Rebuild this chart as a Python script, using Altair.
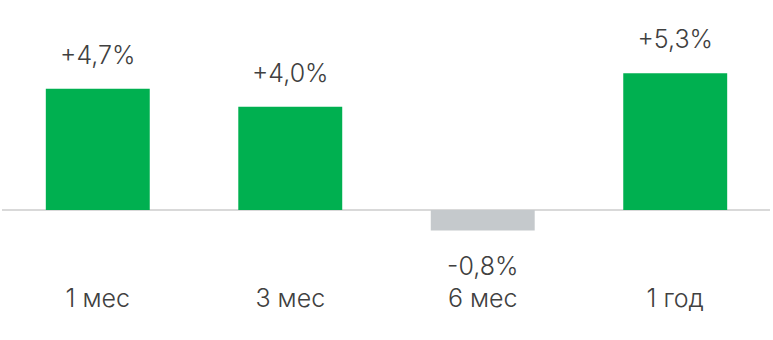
import altair as alt
import pandas as pd

# Returns by period, in percent
periods = ["1 мес", "3 мес", "6 мес", "1 год"]
returns = [4.7, 4.0, -0.8, 5.3]

GREEN = "#00B050"
GREY = "#C5C9CC"
TEXT = "#404040"
FONT = "Inter"
SIZE = 25
WEIGHT = 300

df = pd.DataFrame({"period": periods, "value": returns})
df["zero"] = 0.0
df["label"] = [f"{v:+.1f}%".replace(".", ",") for v in returns]

x = alt.X("period:N", sort=periods, axis=None,
          scale=alt.Scale(paddingInner=0.46, paddingOuter=0.238))
y_scale = alt.Scale(domain=[-5.04, 8.14], nice=False, zero=False)

base = alt.Chart(df)

bars = base.mark_bar().encode(
    x=x,
    y=alt.Y("value:Q", scale=y_scale, axis=None),
    y2="zero:Q",
    color=alt.condition("datum.value < 0", alt.value(GREY), alt.value(GREEN)),
)

zero_line = base.mark_rule(color="#D9D9D9", strokeWidth=1.5).encode(
    x=alt.value(2), x2=alt.value(770),
    y=alt.Y("zero:Q", scale=y_scale, axis=None),
)

text_style = dict(font=FONT, fontSize=SIZE, fontWeight=WEIGHT, color=TEXT,
                  baseline="middle")

pos_labels = base.transform_filter("datum.value >= 0").mark_text(
    dy=-33, **text_style
).encode(x=x, y=alt.Y("value:Q", scale=y_scale, axis=None), text="label:N")

neg_labels = base.transform_filter("datum.value < 0").mark_text(
    dy=36, **text_style
).encode(x=x, y=alt.Y("value:Q", scale=y_scale, axis=None), text="label:N")

cat_labels = base.mark_text(**text_style).encode(
    x=x, y=alt.value(299), text="period:N"
)

chart = alt.layer(zero_line, bars, pos_labels, neg_labels, cat_labels).properties(
    width=773, height=340, padding=0, autosize=alt.AutoSizeParams(type="none")
).configure_view(stroke=None)

chart.save("out.html", embed_options={"renderer": "svg", "actions": False})
